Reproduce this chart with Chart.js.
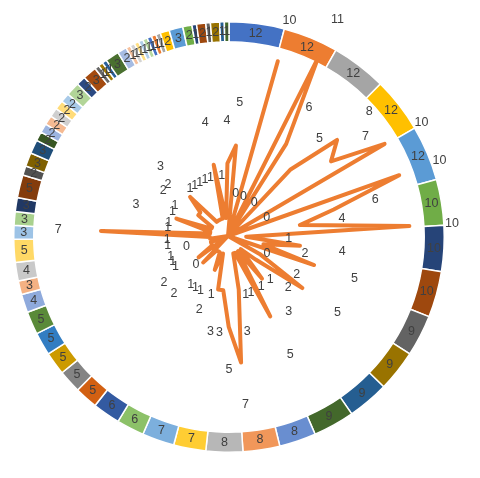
<!DOCTYPE html>
<html>
<head>
<meta charset="utf-8">
<script src="https://cdn.jsdelivr.net/npm/chart.js@4.4.1/dist/chart.umd.min.js"></script>
<style>
  html, body { margin: 0; padding: 0; background: #fff; }
  #wrap { position: relative; width: 480px; height: 478px; }
  .layer { position: absolute; left: 0; top: 0; width: 480px; height: 478px; }
</style>
</head>
<body>
<div id="wrap">
  <div class="layer"><canvas id="ring"></canvas></div>
  <div class="layer"><canvas id="radar"></canvas></div>
</div>
<script>
// ring (doughnut) values, clockwise from 12 o'clock
const ringValues = [12, 12, 12, 12, 12, 10, 10, 10, 9, 9, 9, 9, 8, 8, 8, 7, 7, 6, 6, 5,
    5, 5, 5, 5, 4, 3, 4, 5, 3, 3, 3, 5, 2, 3, 3, 2, 2, 2, 2, 2,
    2, 3, 2, 3, 1, 1, 1, 3, 2, 1, 1, 1, 1, 1, 1, 1, 1, 2, 3, 2,
    1, 2, 1, 2, 1, 1];

// radar (orange line) values, one per category
const radarValues = [5, 0, 10, 0, 11, 6, 0, 5, 8, 7, 10, 0, 10, 6, 4, 10, 1, 4, 2, 5,
    0, 2, 5, 2, 1, 3, 1, 5, 1, 1, 3, 7, 5, 3, 3, 1, 2, 1, 1, 1,
    2, 0, 2, 1, 1, 1, 0, 1, 1, 7, 1, 1, 3, 1, 1, 2, 2, 3, 1, 1,
    1, 1, 1, 4, 1, 4];

const categories = ringValues.map((_, i) => String(i + 1));

// office colour cycle: base accents, then shades / tints
const palette = [
    '#4472C4', '#ED7D31', '#A5A5A5', '#FFC000', '#5B9BD5', '#70AD47',
    '#264478', '#9E480E', '#636363', '#997300', '#255E91', '#43682B',
    '#698ED0', '#F1975A', '#B7B7B7', '#FFCD33', '#7CAFDD', '#8CC168',
    '#335AA1', '#D26012', '#848484', '#CC9A00', '#327DC2', '#5A8A39',
    '#8FAADC', '#F4B183', '#C9C9C9', '#FFD966', '#9DC3E6', '#A9D18E',
    '#203864', '#843C0C', '#525252', '#7F6000', '#1F4E79', '#385723',
    '#9DB5E0', '#F5BA92', '#CFCFCF', '#FFDC7A', '#A8CAE8', '#B2D598',
    '#2B4A82', '#A44B10', '#6A6A6A', '#9F7800', '#29609A', '#4A7030',
    '#A6BCE3', '#F6C09C', '#D3D3D3', '#FFE085', '#B0CFEA', '#B8D9A0'
];
const ringColors = ringValues.map((_, i) => palette[i % palette.length]);

const FONT = '12.5px "Liberation Sans", Arial, sans-serif';
const TEXT = '#404040';
const LABEL_GAP = 2.35; // label sits this many units outside the radar point

const ringLabels = {
    id: 'ringLabels',
    afterDatasetsDraw(chart) {
        const ctx = chart.ctx;
        const meta = chart.getDatasetMeta(0);
        ctx.save();
        ctx.font = FONT; ctx.fillStyle = TEXT;
        ctx.textAlign = 'center'; ctx.textBaseline = 'middle';
        meta.data.forEach((arc, i) => {
            const p = arc.tooltipPosition();
            ctx.fillText(String(ringValues[i]), p.x, p.y);
        });
        ctx.restore();
    }
};

const radarLabels = {
    id: 'radarLabels',
    afterDatasetsDraw(chart) {
        const ctx = chart.ctx;
        const scale = chart.scales.r;
        ctx.save();
        ctx.font = FONT; ctx.fillStyle = TEXT;
        ctx.textAlign = 'center'; ctx.textBaseline = 'middle';
        radarValues.forEach((v, i) => {
            const p = scale.getPointPositionForValue(i, v + LABEL_GAP);
            ctx.fillText(String(v), p.x, p.y);
        });
        ctx.restore();
    }
};

new Chart(document.getElementById('ring'), {
    type: 'doughnut',
    data: { labels: categories, datasets: [{ data: ringValues, backgroundColor: ringColors, borderColor: '#fff', borderWidth: 1.5 }] },
    options: {
        responsive: true, maintainAspectRatio: false, animation: false,
        cutout: '90.7%', rotation: 0,
        layout: { padding: { left: 13, top: 21, right: 35, bottom: 25 } },
        plugins: { legend: { display: false }, tooltip: { enabled: false } }
    },
    plugins: [ringLabels]
});

new Chart(document.getElementById('radar'), {
    type: 'radar',
    data: { labels: categories, datasets: [{ data: radarValues, borderColor: '#ED7D31', borderWidth: 4, pointRadius: 0, fill: false, tension: 0, borderJoinStyle: 'round', borderCapStyle: 'round' }] },
    options: {
        responsive: true, maintainAspectRatio: false, animation: false,
        layout: { padding: { left: 10, top: 18, right: 33, bottom: 23 } },
        plugins: { legend: { display: false }, tooltip: { enabled: false } },
        scales: {
            r: {
                min: 0, max: 12, startAngle: 5,
                grid: { display: false }, angleLines: { display: false },
                ticks: { display: false }, pointLabels: { display: false }
            }
        }
    },
    plugins: [radarLabels]
});
</script>
</body>
</html>
